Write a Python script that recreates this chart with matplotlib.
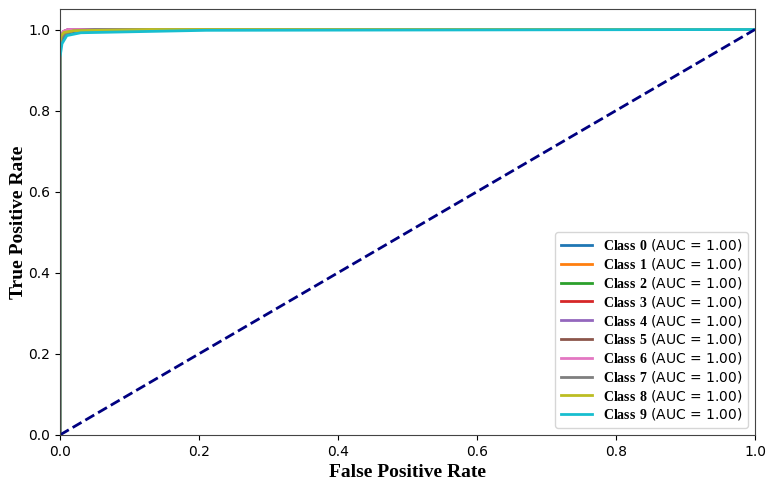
import numpy as np
import matplotlib.pyplot as plt

plt.rcParams['mathtext.fontset'] = 'custom'
plt.rcParams['mathtext.bf'] = 'Liberation Serif:bold'
plt.rcParams['mathtext.rm'] = 'Liberation Serif'

classes = ['0', '1', '2', '3', '4', '5', '6', '7', '8', '9']
auc = [1.00, 1.00, 1.00, 1.00, 1.00, 1.00, 1.00, 1.00, 1.00, 1.00]

# estimated roc points per class
fpr = [
    [0.0, 0.0, 0.003, 0.008, 0.02, 0.06, 1.0],
    [0.0, 0.0, 0.002, 0.006, 0.015, 0.04, 1.0],
    [0.0, 0.0, 0.002, 0.006, 0.02, 0.05, 1.0],
    [0.0, 0.0, 0.002, 0.005, 0.012, 0.03, 1.0],
    [0.0, 0.0, 0.002, 0.005, 0.012, 0.03, 1.0],
    [0.0, 0.0, 0.002, 0.006, 0.015, 0.04, 1.0],
    [0.0, 0.0, 0.002, 0.005, 0.012, 0.03, 1.0],
    [0.0, 0.0, 0.003, 0.008, 0.02, 0.05, 1.0],
    [0.0, 0.0, 0.002, 0.006, 0.02, 0.13, 1.0],
    [0.0, 0.0, 0.003, 0.01, 0.03, 0.21, 1.0],
]
tpr = [
    [0.0, 0.95, 0.975, 0.988, 0.995, 1.0, 1.0],
    [0.0, 0.97, 0.985, 0.995, 1.0, 1.0, 1.0],
    [0.0, 0.96, 0.98, 0.99, 0.997, 1.0, 1.0],
    [0.0, 0.97, 0.985, 0.995, 1.0, 1.0, 1.0],
    [0.0, 0.97, 0.985, 0.995, 1.0, 1.0, 1.0],
    [0.0, 0.96, 0.98, 0.99, 0.998, 1.0, 1.0],
    [0.0, 0.97, 0.985, 0.995, 1.0, 1.0, 1.0],
    [0.0, 0.96, 0.98, 0.99, 0.997, 1.0, 1.0],
    [0.0, 0.97, 0.985, 0.993, 0.997, 1.0, 1.0],
    [0.0, 0.93, 0.965, 0.985, 0.992, 0.998, 1.0],
]

fig = plt.figure(figsize=(7.68, 4.86), dpi=100)
ax = fig.add_axes([0.078, 0.105, 0.905, 0.876])
for i in range(len(classes)):
    ax.plot(fpr[i], tpr[i], lw=2,
            label=r'$\mathbf{Class\ %s}$ (AUC = %.2f)' % (classes[i], auc[i]))
ax.plot([0, 1], [0, 1], color='navy', lw=2, linestyle='--')
ax.set_xlim(0, 1)
ax.set_ylim(0, 1.05)
for s in ax.spines.values():
    s.set_color('#444444')
ax.set_xlabel('False Positive Rate', fontfamily='Liberation Serif', fontweight='bold', fontsize=14)
ax.set_ylabel('True Positive Rate', fontfamily='Liberation Serif', fontweight='bold', fontsize=14, labelpad=1)
ax.legend(loc='lower right', fontsize=10, labelspacing=0.2, handlelength=2.2)
plt.savefig('out.png', dpi=100)
